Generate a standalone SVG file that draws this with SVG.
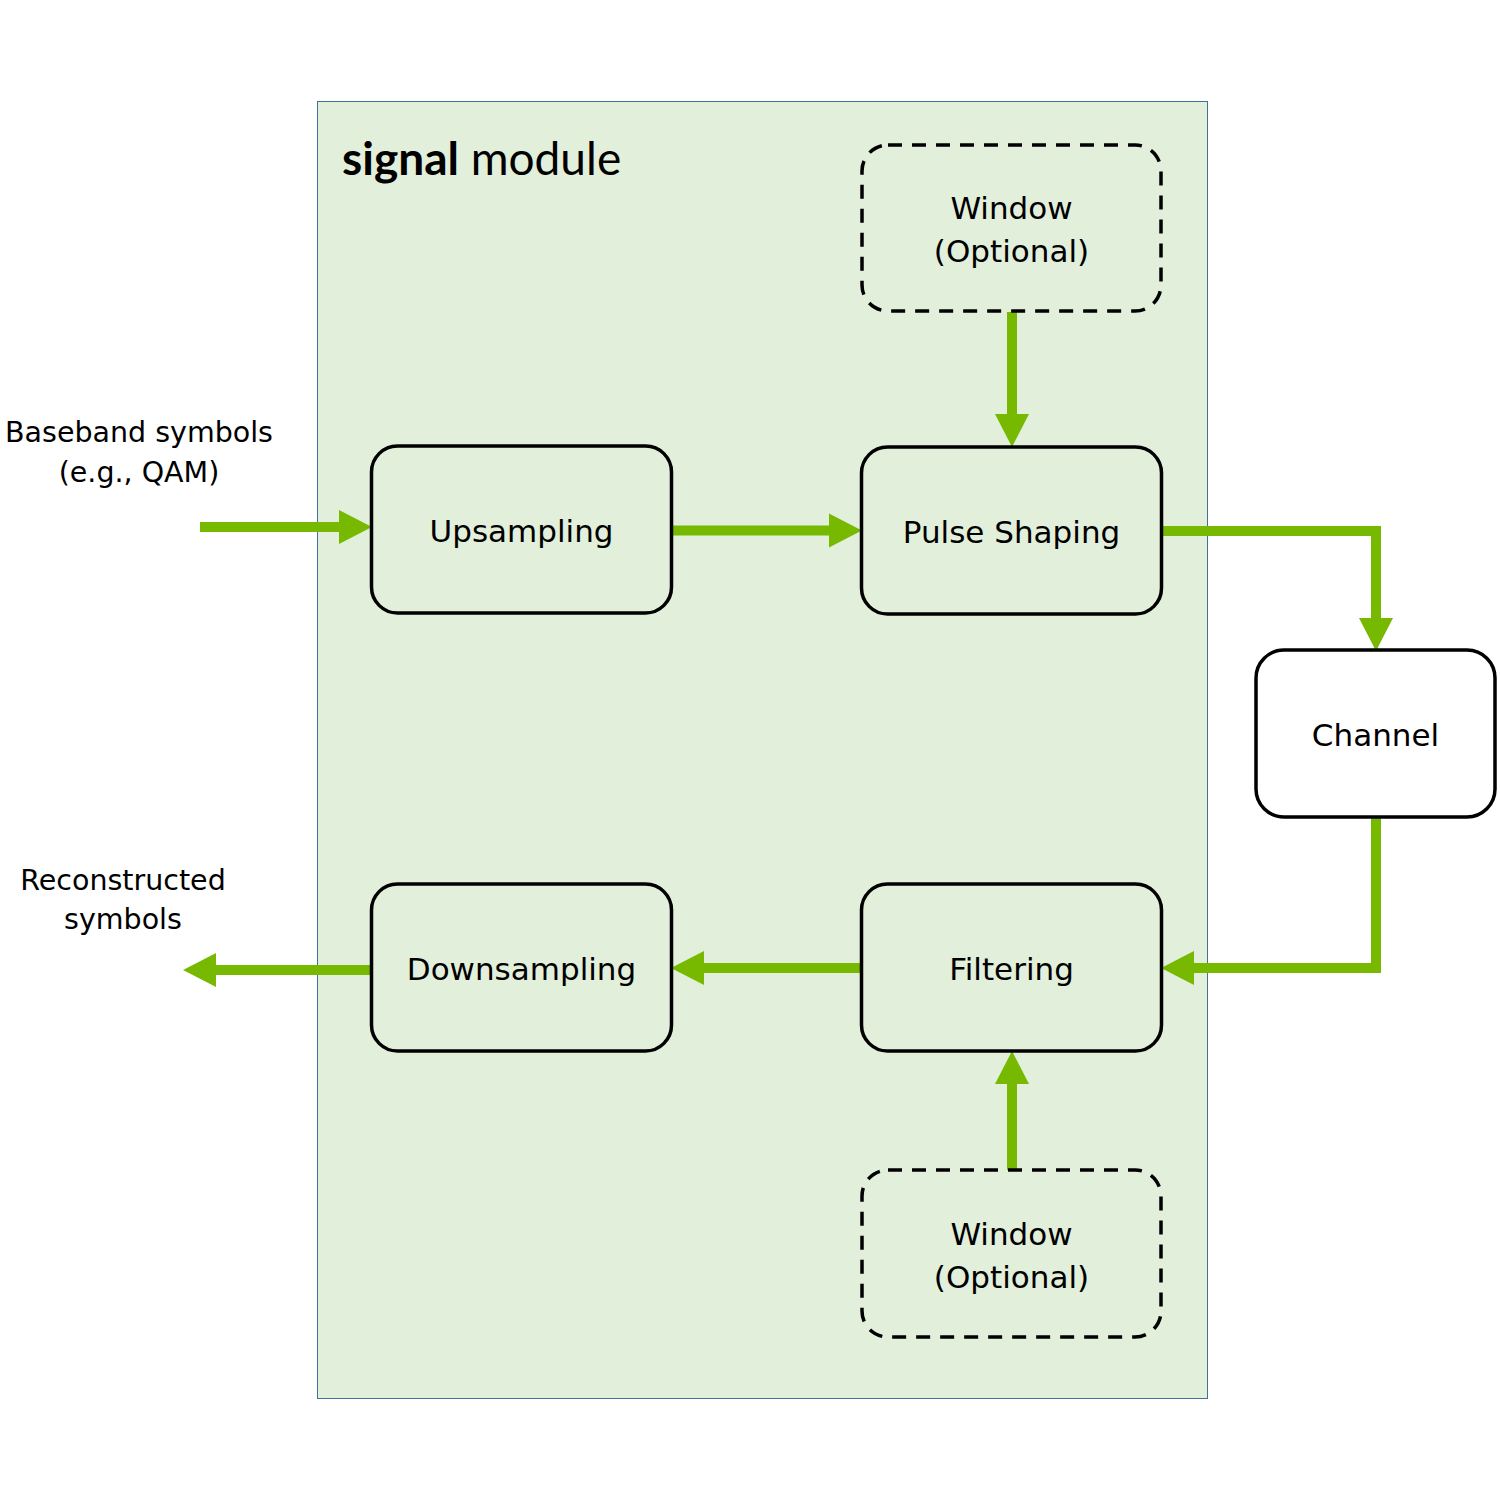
<svg xmlns="http://www.w3.org/2000/svg" width="1500" height="1500" viewBox="0 0 1500 1500">
<style>
.node{fill:#E2EFDA;stroke:#000;stroke-width:3.5}
.dash{fill:#E2EFDA;stroke:#000;stroke-width:3.5;stroke-dasharray:14 10}
.lbl{font-family:"DejaVu Sans",Verdana,sans-serif;font-size:31px;fill:#000;text-anchor:middle}
.ext{font-family:"DejaVu Sans",Verdana,sans-serif;font-size:28.5px;fill:#000;text-anchor:middle}
.conn{fill:none;stroke:#76B900;stroke-width:10}
</style>
<defs>
<marker id="ah" markerUnits="userSpaceOnUse" markerWidth="34" markerHeight="34" refX="1" refY="16.5" orient="auto" viewBox="0 0 32 33" overflow="visible">
<path d="M0,0 L32,16.5 L0,33 Z" fill="#76B900"/>
</marker>
</defs>
<rect width="1500" height="1500" fill="#fff"/>
<g id="container">
<rect x="317.5" y="101.5" width="890" height="1297" fill="#E2EFDA" stroke="#41719C" stroke-width="1"/>
<text x="342" y="175" font-family="Lato,'Open Sans',sans-serif" font-size="46" fill="#000"><tspan font-weight="bold">signal</tspan> module</text>
</g>
<g id="connectors">
<path class="conn" d="M200,527 H340" marker-end="url(#ah)"/>
<path class="conn" d="M672,530.5 H830" marker-end="url(#ah)"/>
<path class="conn" d="M1012,312 V415" marker-end="url(#ah)"/>
<path class="conn" d="M1162,531 H1376 V619" marker-end="url(#ah)"/>
<path class="conn" d="M1376,818 V968 H1193" marker-end="url(#ah)"/>
<path class="conn" d="M861,968 H703" marker-end="url(#ah)"/>
<path class="conn" d="M371,970 H215" marker-end="url(#ah)"/>
<path class="conn" d="M1012,1170 V1083" marker-end="url(#ah)"/>
</g>
<g id="baseband">
<text class="ext" x="139" y="442">Baseband symbols</text>
<text class="ext" x="139" y="482">(e.g., QAM)</text>
</g>
<g id="reconstructed">
<text class="ext" x="123" y="890">Reconstructed</text>
<text class="ext" x="123" y="929">symbols</text>
</g>
<g id="upsampling">
<rect class="node" x="371.5" y="446" width="300" height="167" rx="26"/>
<text class="lbl" x="521.5" y="542">Upsampling</text>
</g>
<g id="pulse-shaping">
<rect class="node" x="861.5" y="447" width="300" height="167" rx="26"/>
<text class="lbl" x="1011.5" y="543">Pulse Shaping</text>
</g>
<g id="window-top">
<rect class="dash" x="862" y="145" width="299" height="166" rx="26"/>
<text class="lbl" x="1011.5" y="219">Window</text>
<text class="lbl" x="1011.5" y="262">(Optional)</text>
</g>
<g id="channel">
<rect x="1256" y="650" width="239" height="167" rx="28" fill="#fff" stroke="#000" stroke-width="3.5"/>
<text class="lbl" x="1375.5" y="746">Channel</text>
</g>
<g id="downsampling">
<rect class="node" x="371.5" y="884" width="300" height="167" rx="26"/>
<text class="lbl" x="521.5" y="980">Downsampling</text>
</g>
<g id="filtering">
<rect class="node" x="861.5" y="884" width="300" height="167" rx="26"/>
<text class="lbl" x="1011.5" y="980">Filtering</text>
</g>
<g id="window-bottom">
<rect class="dash" x="862" y="1170" width="299" height="167" rx="26"/>
<text class="lbl" x="1011.5" y="1245">Window</text>
<text class="lbl" x="1011.5" y="1288">(Optional)</text>
</g>
</svg>
